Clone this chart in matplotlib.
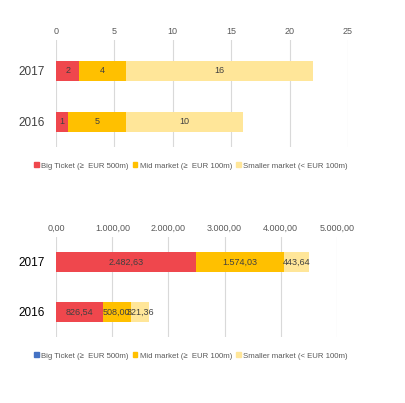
import matplotlib.pyplot as plt
from matplotlib.patches import Patch
from matplotlib.ticker import FuncFormatter

plt.rcParams['font.family'] = ['Liberation Sans', 'DejaVu Sans']

years = ['2016', '2017']
series = ['Big Ticket (≥  EUR 500m)', 'Mid market (≥  EUR 100m)', 'Smaller market (< EUR 100m)']
colors = ['#EF474D', '#FFC000', '#FFE699']

# number of deals
count_big = [1, 2]
count_mid = [5, 4]
count_small = [10, 16]

# volume (EUR m)
vol_big = [826.54, 2482.63]
vol_mid = [508.00, 1574.03]
vol_small = [321.36, 443.64]


def eu(v, pos=None):
    s = f"{v:,.2f}"
    return s.replace(',', 'X').replace('.', ',').replace('X', '.')


fig = plt.figure(figsize=(4.05, 4.03), dpi=100)
ax1 = fig.add_axes([56/405, 1-147/403, 292/405, 107/403])
ax2 = fig.add_axes([56.3/405, 1-337/403, 280.4/405, 100/403])


def stack(ax, data, h, fmt):
    left = [0, 0]
    for vals, c in zip(data, colors):
        bars = ax.barh([0, 1], vals, left=left, height=h, color=c, zorder=3)
        ax.bar_label(bars, labels=[fmt(v) for v in vals], label_type='center',
                     fontsize=6.5, color='#404040')
        left = [a + b for a, b in zip(left, vals)]


stack(ax1, [count_big, count_mid, count_small], 0.39, lambda v: f"{v:d}")
stack(ax2, [vol_big, vol_mid, vol_small], 0.4, eu)

ax1.set_xlim(0, 25)
ax1.set_xticks([0, 5, 10, 15, 20, 25])
ax1.set_ylim(-0.49, 1.6)
ax2.set_xlim(0, 5000)
ax2.set_xticks([0, 1000, 2000, 3000, 4000, 5000])
ax2.xaxis.set_major_formatter(FuncFormatter(eu))
ax2.set_ylim(-0.5, 1.5)

for ax, ycol in [(ax1, '#404040'), (ax2, '#000000')]:
    ax.xaxis.tick_top()
    ax.set_yticks([0, 1])
    ax.set_yticklabels(years, fontsize=8.5, color=ycol)
    ax.tick_params(axis='x', length=0, labelsize=6.5, labelcolor='#595959', pad=3)
    ax.tick_params(axis='y', length=0, pad=8)
    ax.grid(axis='x', color='#D9D9D9', linewidth=0.8, zorder=0)
    for s in ax.spines.values():
        s.set_visible(False)

handles1 = [Patch(color=c) for c in colors]
handles2 = [Patch(color='#4472C4')] + [Patch(color=c) for c in colors[1:]]

for handles, y in [(handles1, 1-166/403), (handles2, 1-356/403)]:
    fig.legend(handles, series, loc='center', bbox_to_anchor=(191/405, y), ncol=3,
               frameon=False, fontsize=5.6, labelcolor='#595959', handlelength=0.6,
               handleheight=0.6, handletextpad=0.3, columnspacing=0.5)

fig.savefig('out.png', dpi=100)
